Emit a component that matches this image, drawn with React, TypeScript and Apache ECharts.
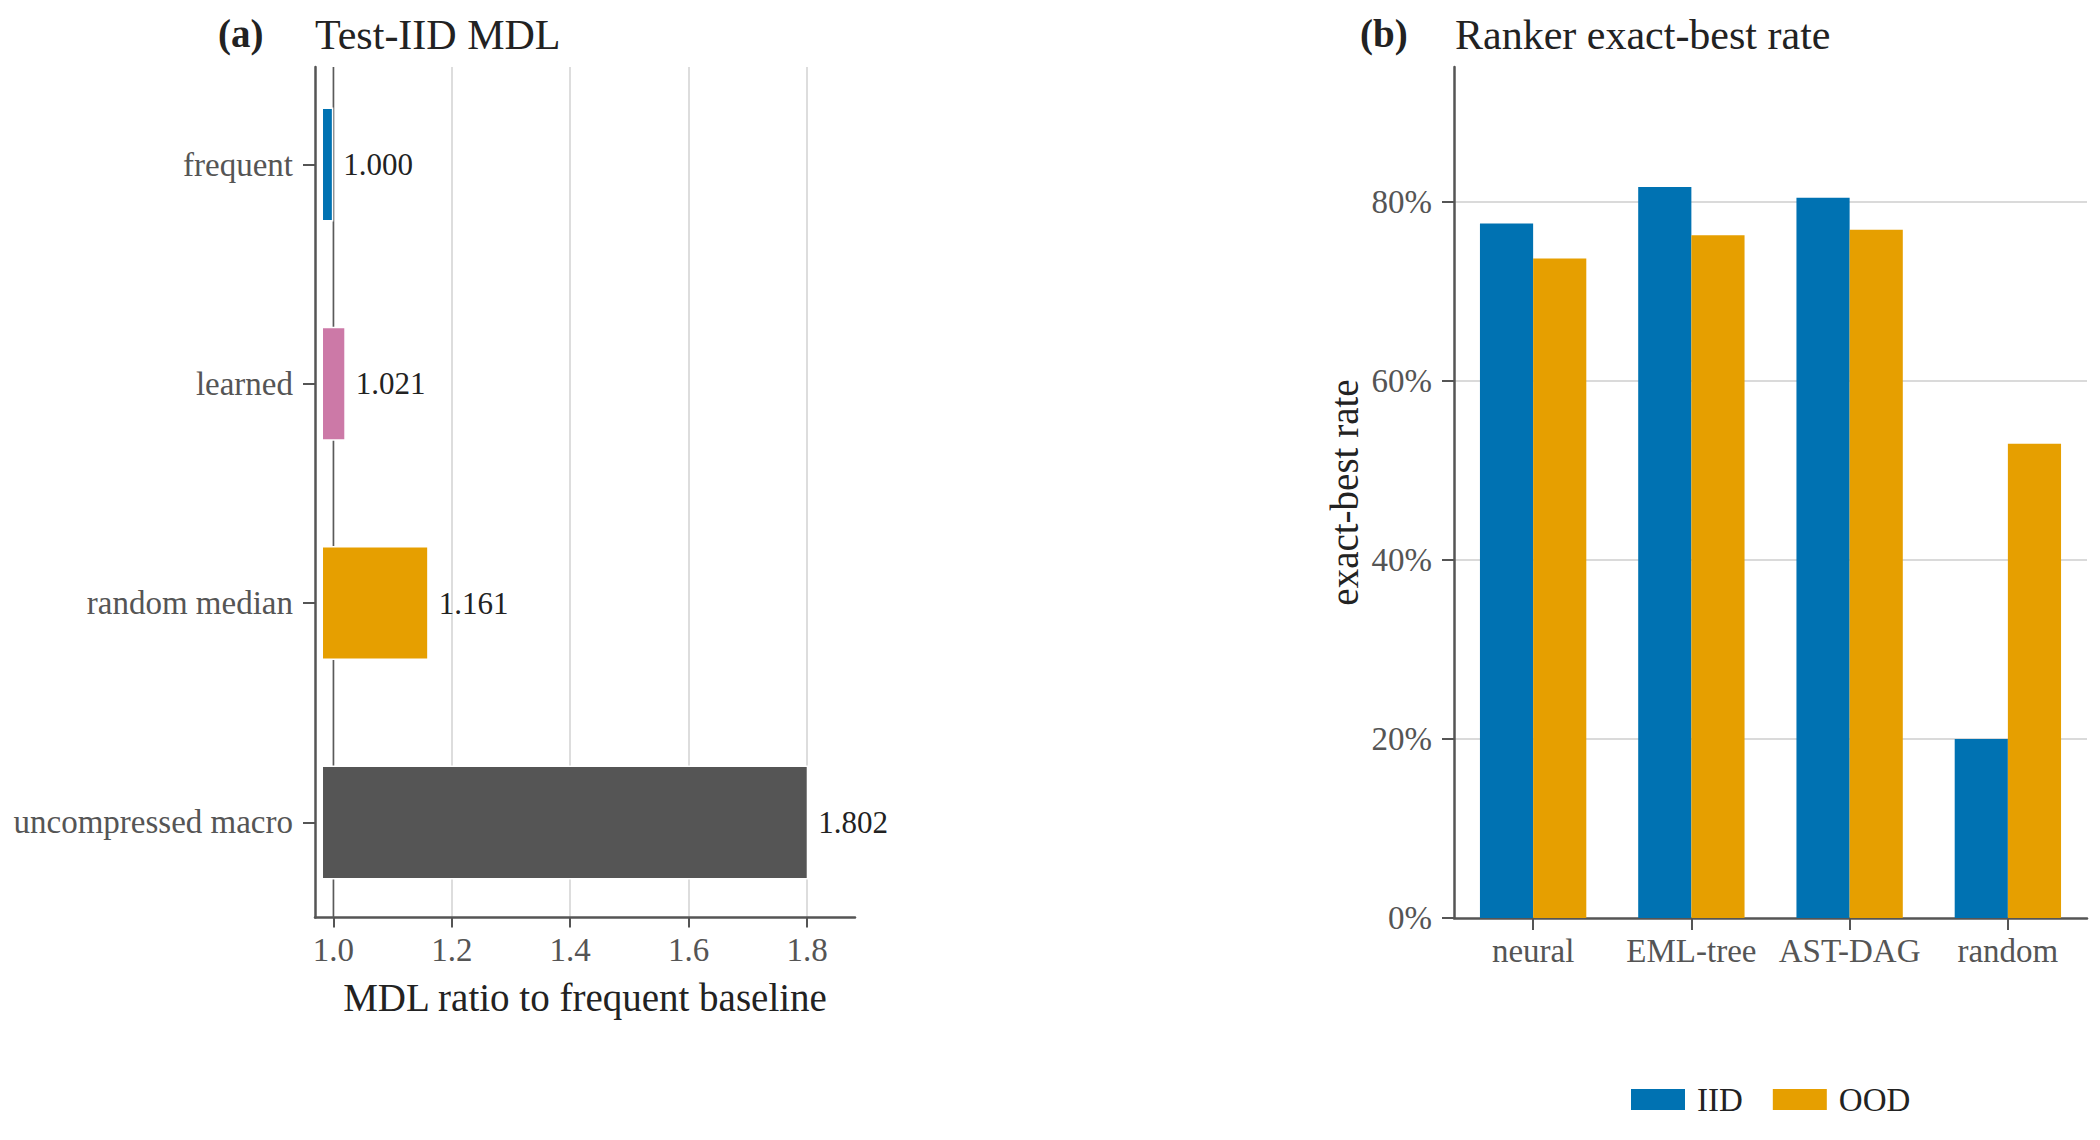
import React, { useEffect, useRef } from "react";
import * as echarts from "echarts";

// ---- data ----
const MDL_CATEGORIES = ["frequent", "learned", "random median", "uncompressed macro"];
const MDL_VALUES = [1.0, 1.021, 1.161, 1.802];
const MDL_COLORS = ["#0072B2", "#CC79A7", "#E69F00", "#555555"];
const MDL_BAR_START = 0.98;
const MDL_TICKS = [1.0, 1.2, 1.4, 1.6, 1.8];

const RANK_CATEGORIES = ["neural", "EML-tree", "AST-DAG", "random"];
const IID_RATE = [77.6, 81.7, 80.5, 20.0];
const OOD_RATE = [73.7, 76.3, 76.9, 53.0];
const RATE_TICKS = [0, 20, 40, 60, 80];

const FONT = "'Liberation Serif', 'DejaVu Serif', serif";
const SPINE = "#555555";
const GRIDC = "#dadada";
const TICKTXT = "#555555";
const DARK = "#222222";
const TICK_FS = 33;
const NAME_FS = 39;
const TITLE_FS = 42;
const ANNOT_FS = 31;

// ---- layout ----
const TOP = 67;
const L_LEFT = 315;
const L_RIGHT = 855;
const L_BOTTOM = 917.5;
const X_MIN = 0.969;
const X_MAX = 1.881;
const K = (L_RIGHT - L_LEFT) / (X_MAX - X_MIN);
const BAND = 219.3;
const FIRST_CENTER = 164.5;

const R_LEFT = 1454;
const R_RIGHT = 2087;
const R_BOTTOM = 918;
const Y_MAX = 95.1;
const R_H = R_BOTTOM - TOP;
const TICK_TOP = R_BOTTOM - (RATE_TICKS[RATE_TICKS.length - 1] / Y_MAX) * R_H;

export default function App() {
  const ref = useRef<HTMLDivElement>(null);

  useEffect(() => {
    document.body.style.margin = "0";
    const chart = echarts.init(ref.current!, null, { renderer: "svg" });
    const tickMin = MDL_TICKS[0];
    const tickMax = MDL_TICKS[MDL_TICKS.length - 1];

    const option: any = {
      animation: false,
      backgroundColor: "#ffffff",
      textStyle: { fontFamily: FONT },
      title: [
        { text: "(a)", left: 218, top: 14, padding: 0, textStyle: { fontFamily: FONT, fontSize: 39, fontWeight: "bold", color: DARK } },
        { text: "Test-IID MDL", left: 315, top: 14, padding: 0, textStyle: { fontFamily: FONT, fontSize: TITLE_FS, fontWeight: "normal", color: DARK } },
        { text: "(b)", left: 1360, top: 14, padding: 0, textStyle: { fontFamily: FONT, fontSize: 39, fontWeight: "bold", color: DARK } },
        { text: "Ranker exact-best rate", left: 1455, top: 14, padding: 0, textStyle: { fontFamily: FONT, fontSize: TITLE_FS, fontWeight: "normal", color: DARK } },
      ],
      legend: {
        data: ["IID", "OOD"],
        left: 1631,
        top: 1083,
        padding: 0,
        icon: "rect",
        itemWidth: 54,
        itemHeight: 21,
        itemGap: 30,
        textStyle: { fontFamily: FONT, fontSize: TICK_FS, color: DARK, padding: [0, 0, 0, 7] },
      },
      grid: [
        // 0: left spines
        { left: L_LEFT, top: TOP, width: L_RIGHT - L_LEFT, height: L_BOTTOM - TOP },
        // 1: left ticks / gridlines
        { left: L_LEFT + (tickMin - X_MIN) * K, top: TOP, width: (tickMax - tickMin) * K, height: L_BOTTOM - TOP },
        // 2: left bars (category bands)
        { left: L_LEFT, top: FIRST_CENTER - BAND / 2, width: L_RIGHT - L_LEFT, height: BAND * MDL_CATEGORIES.length },
        // 3: right spines + bars
        { left: R_LEFT, top: TOP, width: R_RIGHT - R_LEFT, height: R_H },
        // 4: right ticks / gridlines
        { left: R_LEFT, top: TICK_TOP, width: R_RIGHT - R_LEFT, height: R_BOTTOM - TICK_TOP },
      ],
      xAxis: [
        {
          gridIndex: 0, type: "value", min: X_MIN, max: X_MAX,
          axisLine: { show: true, onZero: false, lineStyle: { color: SPINE, width: 2.5 } },
          axisTick: { show: false }, axisLabel: { show: false }, splitLine: { show: false },
          name: "MDL ratio to frequent baseline", nameLocation: "middle", nameGap: 60,
          nameTextStyle: { fontFamily: FONT, fontSize: NAME_FS, color: DARK },
        },
        {
          gridIndex: 1, type: "value", min: tickMin, max: tickMax, interval: 0.2,
          axisLine: { show: false },
          axisTick: { show: true, length: 10, lineStyle: { color: SPINE, width: 2 } },
          axisLabel: { show: true, margin: 16, color: TICKTXT, fontFamily: FONT, fontSize: TICK_FS, formatter: (v: number) => v.toFixed(1) },
          splitLine: { show: true, lineStyle: { color: GRIDC, width: 1.8 } },
        },
        { gridIndex: 2, type: "value", min: X_MIN, max: X_MAX, show: false },
        {
          gridIndex: 3, type: "category", data: RANK_CATEGORIES,
          axisLine: { show: true, onZero: false, lineStyle: { color: SPINE, width: 2.5 } },
          axisTick: { show: true, alignWithLabel: true, interval: 0, length: 12, lineStyle: { color: SPINE, width: 2 } },
          axisLabel: { show: true, interval: 0, margin: 16, color: TICKTXT, fontFamily: FONT, fontSize: TICK_FS },
          splitLine: { show: false },
        },
        { gridIndex: 4, type: "value", min: 0, max: 1, show: false },
      ],
      yAxis: [
        {
          gridIndex: 0, type: "value", min: 0, max: 1,
          axisLine: { show: true, onZero: false, lineStyle: { color: SPINE, width: 2.5 } },
          axisTick: { show: false }, axisLabel: { show: false }, splitLine: { show: false },
        },
        { gridIndex: 1, type: "value", min: 0, max: 1, show: false },
        {
          gridIndex: 2, type: "category", data: MDL_CATEGORIES, inverse: true,
          axisLine: { show: false },
          axisTick: { show: true, alignWithLabel: true, interval: 0, length: 12, lineStyle: { color: SPINE, width: 2 } },
          axisLabel: { show: true, interval: 0, margin: 22, color: TICKTXT, fontFamily: FONT, fontSize: TICK_FS },
          splitLine: { show: false },
        },
        {
          gridIndex: 3, type: "value", min: 0, max: Y_MAX,
          axisLine: { show: true, onZero: false, lineStyle: { color: SPINE, width: 2.5 } },
          axisTick: { show: false }, axisLabel: { show: false }, splitLine: { show: false },
          name: "exact-best rate", nameLocation: "middle", nameGap: 90,
          nameTextStyle: { fontFamily: FONT, fontSize: NAME_FS, color: DARK },
        },
        {
          gridIndex: 4, type: "value", min: RATE_TICKS[0], max: RATE_TICKS[RATE_TICKS.length - 1], interval: 20,
          axisLine: { show: false },
          axisTick: { show: true, length: 12, lineStyle: { color: SPINE, width: 2 } },
          axisLabel: { show: true, margin: 22, color: TICKTXT, fontFamily: FONT, fontSize: TICK_FS, formatter: "{value}%" },
          splitLine: { show: true, showMinLine: false, lineStyle: { color: GRIDC, width: 1.8 } },
        },
      ],
      series: [
        {
          name: "ref", type: "line", xAxisIndex: 0, yAxisIndex: 0,
          data: [[tickMin, 0], [tickMin, 1]], symbol: "none", silent: true, z: 1,
          lineStyle: { color: "#5a5a5a", width: 1.5 },
        },
        {
          name: "base", type: "bar", xAxisIndex: 2, yAxisIndex: 2, stack: "mdl", silent: true,
          data: MDL_CATEGORIES.map(() => MDL_BAR_START), barWidth: 114, z: 3,
          itemStyle: { color: "rgba(0,0,0,0)" },
        },
        {
          name: "mdl", type: "bar", xAxisIndex: 2, yAxisIndex: 2, stack: "mdl", barWidth: 114, z: 3,
          data: MDL_VALUES.map((v, i) => ({ value: +(v - MDL_BAR_START).toFixed(6), itemStyle: { color: MDL_COLORS[i] } })),
          itemStyle: { borderColor: "#ffffff", borderWidth: 1.5 },
          label: {
            show: true, position: "right", distance: 10, color: DARK, fontFamily: FONT, fontSize: ANNOT_FS,
            formatter: (p: any) => MDL_VALUES[p.dataIndex].toFixed(3),
          },
        },
        {
          name: "IID", type: "bar", xAxisIndex: 3, yAxisIndex: 3, data: IID_RATE,
          barWidth: "33.6%", barGap: "0%", itemStyle: { color: "#0072B2" }, z: 3,
        },
        {
          name: "OOD", type: "bar", xAxisIndex: 3, yAxisIndex: 3, data: OOD_RATE,
          barWidth: "33.6%", barGap: "0%", itemStyle: { color: "#E69F00" }, z: 3,
        },
      ],
    };
    chart.setOption(option);
    return () => chart.dispose();
  }, []);

  return (
    <div
      ref={ref}
      style={{ position: "absolute", left: 0, top: 0, width: 2100, height: 1140, background: "#fff" }}
    />
  );
}
